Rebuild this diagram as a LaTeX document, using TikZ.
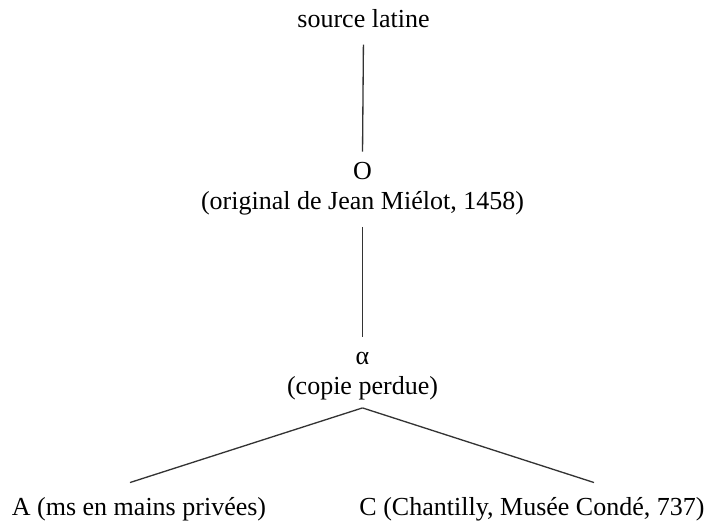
\documentclass[tikz,border=0pt]{standalone}
\usepackage{fontspec}
\setmainfont{Liberation Serif}
\tikzset{
  wit/.style={align=center,inner sep=4pt,font=\fontsize{14.8}{17.5}\selectfont},
  stem/.style={draw=black!80,line width=0.75pt},
}
\begin{document}
\begin{tikzpicture}
  \useasboundingbox (0,0) rectangle (14.32,10.52);
  % stemma
  \node[wit,anchor=base] (src) at (7.27,9.96) {source latine};
  \node[wit,anchor=base] (orig) at (7.25,6.32) {O\\(original de Jean Miélot, 1458)};
  \node[wit,anchor=base] (lost) at (7.25,2.62) {α\\(copie perdue)};
  \node[wit,anchor=base] (msA) at (2.78,0.2) {A (ms en mains privées)};
  \node[wit,anchor=base] (msC) at (10.64,0.2) {C (Chantilly, Musée Condé, 737)};
  \draw[stem,shorten <=0.18cm,shorten >=0.06cm] (src.south) -- (orig.north);
  \draw[stem,shorten <=0.08cm,shorten >=0.16cm] (orig.south) -- (lost.north);
  \draw[stem] (lost.south) -- ([xshift=-0.18cm,yshift=0.16cm]msA.north);
  \draw[stem] (lost.south) -- ([xshift=1.24cm,yshift=0.16cm]msC.north);
\end{tikzpicture}
\end{document}
